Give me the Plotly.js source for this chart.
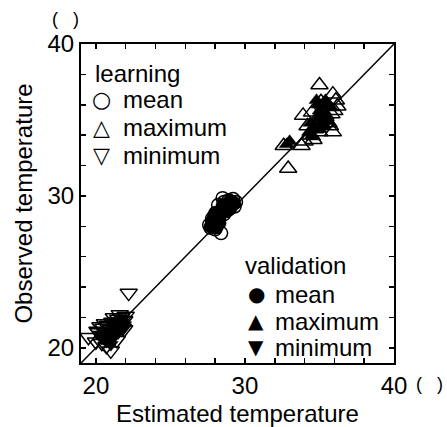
<!DOCTYPE html>
<html><head><meta charset="utf-8">
<script src="https://cdn.plot.ly/plotly-3.0.1.min.js"></script>
<style>html,body{margin:0;padding:0;background:#fff}#chart{width:447px;height:427px}</style>
</head><body><div id="chart"></div>
<script>
// 1:1 reference line
const lineX = [19, 40];
const lineY = [19, 40];

// learning (open markers)
const learnMeanX = [27.6,27.7,27.8,27.9,28.0,28.0,28.1,28.2,28.3,28.4,28.2,28.5,28.6,28.7,28.8,28.9,29.0,29.1,29.2,29.3,29.4,28.6,28.9,27.8,28.5];
const learnMeanY = [28.1,27.9,28.3,28.0,28.6,27.8,28.2,28.4,28.8,27.55,29.4,29.2,29.6,29.0,29.4,29.7,29.2,29.5,29.8,29.3,29.6,28.8,29.1,28.5,29.85];

const learnMaxX = [35.0,35.9,36.1,33.9,34.2,32.6,33.8,32.9,34.6,35.7,36.2,34.8,35.2,35.5,35.0,34.4,35.4,35.8,34.7,35.6,35.1,34.5,36.0,34.0,35.9];
const learnMaxY = [37.3,36.7,36.3,35.3,34.6,33.3,33.3,31.8,33.7,34.6,35.9,35.0,35.6,36.0,34.2,34.0,35.2,35.4,34.4,34.8,36.2,35.5,35.6,33.6,34.2];

const learnMinX = [19.5,20.0,20.2,20.4,20.5,20.6,20.7,20.8,20.9,21.0,21.0,21.1,21.2,21.3,21.4,21.5,21.5,21.6,21.7,21.8,21.9,22.0,21.2,20.3,22.2,21.6,20.6,20.1,21.9];
const learnMinY = [20.7,20.4,21.0,20.3,21.3,20.8,20.1,21.5,20.6,19.8,21.2,21.7,20.9,21.4,20.5,21.9,21.1,21.6,22.0,21.3,21.8,22.1,22.0,21.4,23.6,22.2,21.6,21.1,21.2];

// validation (filled markers)
const valMeanX = [27.8,28.0,28.1,28.3,28.7,28.9,29.1,28.6,29.2,27.9,28.4,27.7,28.2,28.0,28.8,29.0,29.3,28.5,28.3,27.9];
const valMeanY = [28.2,28.4,27.9,28.5,29.3,29.5,29.3,29.1,29.6,28.7,29.0,28.0,28.7,28.9,29.0,29.7,29.5,29.4,28.2,28.4];

const valMaxX = [32.8,33.0,34.9,35.0,35.3,35.5,35.2,34.7,35.8,35.4,34.5,35.1,35.6,34.8,34.9,34.3,34.6,35.0,35.3,34.4];
const valMaxY = [33.4,33.6,36.0,35.6,35.9,35.3,34.8,34.5,35.8,36.3,34.0,35.2,34.9,36.3,35.1,34.2,33.9,34.4,34.6,34.8];

const valMinX = [20.8,21.2,21.5,21.0,21.7,20.5,21.9,21.3,20.9,20.3,20.6,21.1,21.4,21.6,21.8,20.7,21.0,20.4,21.3,21.8];
const valMinY = [20.9,21.3,21.0,20.5,21.6,20.6,21.5,20.8,21.1,20.9,21.0,21.6,21.4,21.2,21.9,20.4,20.2,20.6,21.8,21.3];

// axis ticks
const tickVals = [20,22,24,26,28,30,32,34,36,38,40];
const tickText = ['20','','','','','30','','','','','40'];

// legend texts
const groupNames = ['learning', 'validation'];
const statNames = ['mean', 'maximum', 'minimum'];
const openGlyphs = ['\u25CB', '\u25B3', '\u25BD'];
const filledGlyphs = ['\u25CF', '\u25B2', '\u25BC'];
const unitText = '(\u00a0\u00a0\u00a0)';

const FONT = 'Liberation Sans, Arial, Helvetica, sans-serif';
const BLACK = '#000';

function openMarker(symbol, size) {
  return {symbol: symbol, size: size, color: 'rgba(0,0,0,0)', line: {color: BLACK, width: 1.5}};
}
function filledMarker(symbol, size) {
  return {symbol: symbol, size: size, color: BLACK, line: {color: BLACK, width: 0.5}};
}

const traces = [
  {x: lineX, y: lineY, mode: 'lines', line: {color: BLACK, width: 1.5}, hoverinfo: 'skip'},
  {x: learnMeanX, y: learnMeanY, mode: 'markers', name: 'learning mean', marker: openMarker('circle', 13)},
  {x: learnMaxX, y: learnMaxY, mode: 'markers', name: 'learning maximum', marker: openMarker('triangle-up', 15)},
  {x: learnMinX, y: learnMinY, mode: 'markers', name: 'learning minimum', marker: openMarker('triangle-down', 15)},
  {x: valMeanX, y: valMeanY, mode: 'markers', name: 'validation mean', marker: filledMarker('circle', 13)},
  {x: valMaxX, y: valMaxY, mode: 'markers', name: 'validation maximum', marker: filledMarker('triangle-up', 13)},
  {x: valMinX, y: valMinY, mode: 'markers', name: 'validation minimum', marker: filledMarker('triangle-down', 13)}
];

// paper-coordinate helpers (plot area: l=81, t=44, w=313, h=319)
const L = 81, T = 44, W = 313, H = 319;
const px2x = p => (p - L) / W;
const px2y = p => (T + H - p) / H;

function textAnn(text, xpx, ypx, anchor, size, family) {
  return {text: text, xref: 'paper', yref: 'paper', x: px2x(xpx), y: px2y(ypx),
          xanchor: anchor, yanchor: 'middle', showarrow: false,
          font: {family: family || FONT, size: size, color: BLACK}, borderpad: 0};
}

const annotations = [];
annotations.push(textAnn(unitText, 65, 19, 'center', 18));
annotations.push(textAnn(unitText, 429, 384, 'center', 18));
annotations.push(textAnn(groupNames[0], 94, 73, 'left', 24));
annotations.push(textAnn(groupNames[1], 244, 265, 'left', 24));
const learnRows = [99, 127, 155];
const valRows = [294, 321, 347];
statNames.forEach((s, i) => {
  annotations.push(textAnn(openGlyphs[i], 101, learnRows[i], 'center', 22, 'DejaVu Sans'));
  annotations.push(textAnn(s, 122, learnRows[i], 'left', 24));
  annotations.push(textAnn(filledGlyphs[i], 256, valRows[i], 'center', 20, 'DejaVu Sans'));
  annotations.push(textAnn(s, 274, valRows[i], 'left', 24));
});

function axis(title, standoff) {
  return {
    range: [19, 40], tickmode: 'array', tickvals: tickVals, ticktext: tickText,
    ticks: 'inside', ticklen: 5, tickwidth: 1.5, tickcolor: BLACK,
    showline: true, linecolor: BLACK, linewidth: 2, mirror: 'allticks',
    showgrid: false, zeroline: false, fixedrange: true,
    tickfont: {family: FONT, size: 24, color: BLACK},
    title: {text: title, font: {family: FONT, size: 24, color: BLACK}, standoff: standoff}
  };
}

const layout = {
  width: 447, height: 427,
  margin: {l: L, r: 447 - L - W, t: T, b: 427 - T - H, pad: 0},
  paper_bgcolor: '#fff', plot_bgcolor: '#fff',
  showlegend: false,
  font: {family: FONT, size: 24, color: BLACK},
  xaxis: axis('Estimated temperature', 15),
  yaxis: axis('Observed temperature', 8),
  annotations: annotations
};

Plotly.newPlot('chart', traces, layout, {displayModeBar: false, staticPlot: true});
</script>
</body></html>
